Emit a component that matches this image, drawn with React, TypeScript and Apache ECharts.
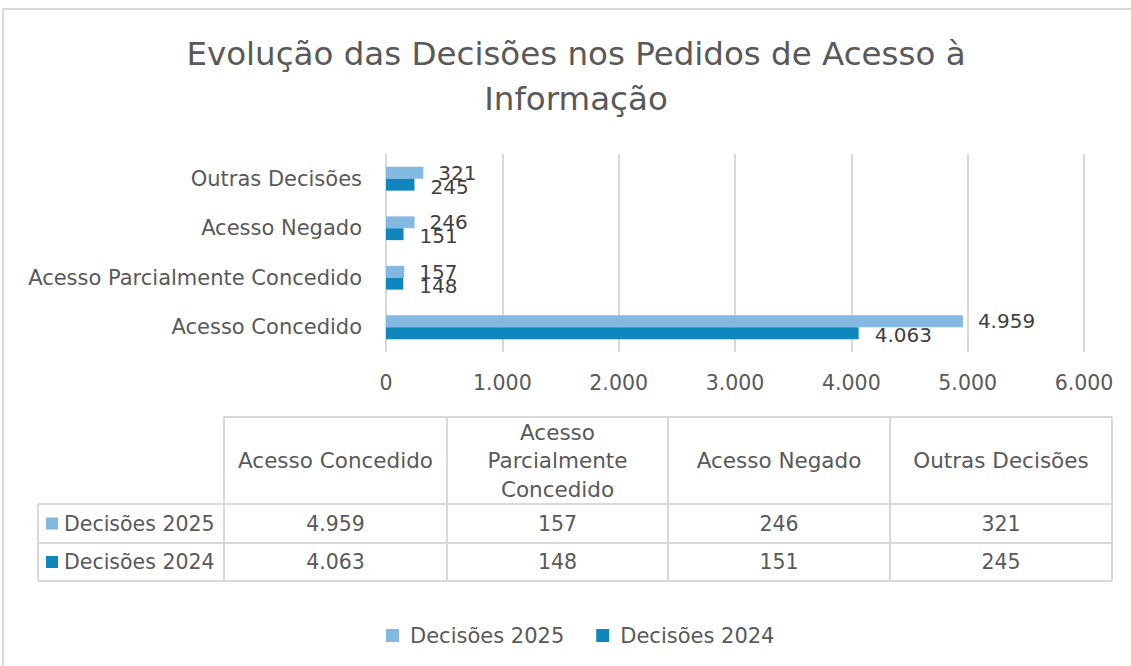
import React, { useEffect, useRef } from "react";
import * as echarts from "echarts";

const titleText = "Evolução das Decisões nos Pedidos de Acesso à\nInformação";
const categories = ["Acesso Concedido", "Acesso Parcialmente Concedido", "Acesso Negado", "Outras Decisões"];
const headerLines = [["Acesso Concedido"], ["Acesso", "Parcialmente", "Concedido"], ["Acesso Negado"], ["Outras Decisões"]];
const seriesNames = ["Decisões 2025", "Decisões 2024"];
const values2025 = [4959, 157, 246, 321];
const values2024 = [4063, 148, 151, 245];
const xTicks = { min: 0, max: 6000, interval: 1000 };
const colors = ["#83B9E0", "#0F87BE"];

const FONT = "DejaVu Sans";
const TXT = "#595959";
const LINE = "#d9d9d9";

function fmt(v: number): string {
  const s = String(Math.round(v));
  return s.replace(/\B(?=(\d{3})+(?!\d))/g, ".");
}

export default function App() {
  const ref = useRef<HTMLDivElement>(null);
  useEffect(() => {
    if (!ref.current) return;
    const chart = echarts.init(ref.current, null, { renderer: "svg" });

    const colX = [38, 224, 447, 668, 890, 1112];
    const rowY = [417, 504, 543, 581];
    const g: any[] = [];
    g.push({ type: "rect", shape: { x: 3, y: 9, width: 1200, height: 800 }, style: { fill: "none", stroke: LINE, lineWidth: 2 } });
    const hl = (x1: number, x2: number, y: number) =>
      g.push({ type: "line", shape: { x1, y1: y, x2, y2: y }, style: { stroke: LINE, lineWidth: 2 } });
    const vl = (x: number, y1: number, y2: number) =>
      g.push({ type: "line", shape: { x1: x, y1, x2: x, y2 }, style: { stroke: LINE, lineWidth: 2 } });
    hl(colX[1], colX[5], rowY[0]);
    hl(colX[0], colX[5], rowY[1]);
    hl(colX[0], colX[5], rowY[2]);
    hl(colX[0], colX[5], rowY[3]);
    vl(colX[0], rowY[1], rowY[3]);
    for (let i = 1; i < colX.length; i++) vl(colX[i], rowY[0], rowY[3]);
    headerLines.forEach((lines, i) => {
      const cx = (colX[i + 1] + colX[i + 2]) / 2;
      const cy = (rowY[0] + rowY[1]) / 2;
      g.push({
        type: "text",
        x: cx,
        y: cy,
        style: { text: lines.join("\n"), fill: TXT, font: `21.5px "${FONT}"`, align: "center", verticalAlign: "middle", lineHeight: 28.5 },
      });
    });
    const rows = [values2025, values2024];
    rows.forEach((vals, r) => {
      const cy = (rowY[r + 1] + rowY[r + 2]) / 2;
      g.push({ type: "rect", shape: { x: 46, y: cy - 6, width: 12, height: 12 }, style: { fill: colors[r] } });
      g.push({ type: "text", x: 64, y: cy, style: { text: seriesNames[r], fill: TXT, font: `20.5px "${FONT}"`, align: "left", verticalAlign: "middle" } });
      vals.forEach((v, i) => {
        const cx = (colX[i + 1] + colX[i + 2]) / 2;
        g.push({ type: "text", x: cx, y: cy, style: { text: fmt(v), fill: TXT, font: `20.5px "${FONT}"`, align: "center", verticalAlign: "middle" } });
      });
    });

    const labelBase = { show: true, position: "right", color: "#404040", fontSize: 20, fontFamily: FONT, formatter: (p: any) => fmt(p.value) };

    chart.setOption({
      animation: false,
      textStyle: { fontFamily: FONT },
      title: {
        text: titleText,
        left: 571,
        top: 26,
        textAlign: "center",
        textStyle: { fontSize: 32.5, fontWeight: "normal", color: TXT, fontFamily: FONT, lineHeight: 45 },
      },
      grid: { left: 386, right: 47, top: 154, height: 198, containLabel: false },
      xAxis: {
        type: "value",
        min: xTicks.min,
        max: xTicks.max,
        interval: xTicks.interval,
        axisLabel: { color: TXT, fontSize: 20.5, fontFamily: FONT, margin: 20, formatter: (v: number) => fmt(v) },
        splitLine: { lineStyle: { color: LINE, width: 2 } },
        axisLine: { show: false },
        axisTick: { show: false },
      },
      yAxis: {
        type: "category",
        data: categories,
        axisLabel: { color: TXT, fontSize: 21, fontFamily: FONT, margin: 24 },
        axisLine: { show: false },
        axisTick: { show: false },
      },
      legend: {
        data: seriesNames,
        left: 381,
        top: 620,
        itemWidth: 13,
        itemHeight: 13,
        itemGap: 32,
        icon: "rect",
        textStyle: { color: TXT, fontSize: 21, fontFamily: FONT, padding: [0, 0, 0, 6] },
      },
      series: [
        {
          name: seriesNames[0],
          type: "bar",
          data: values2025,
          itemStyle: { color: colors[0] },
          barGap: "0%",
          barCategoryGap: "52%",
          label: { ...labelBase, distance: 15, offset: [0, 0] },
        },
        {
          name: seriesNames[1],
          type: "bar",
          data: values2024,
          itemStyle: { color: colors[1] },
          barGap: "0%",
          barCategoryGap: "52%",
          label: { ...labelBase, distance: 16, offset: [0, 2] },
        },
      ],
      graphic: g,
    });
    return () => chart.dispose();
  }, []);
  return <div ref={ref} style={{ position: "absolute", left: 0, top: 0, width: 1131, height: 666 }} />;
}
